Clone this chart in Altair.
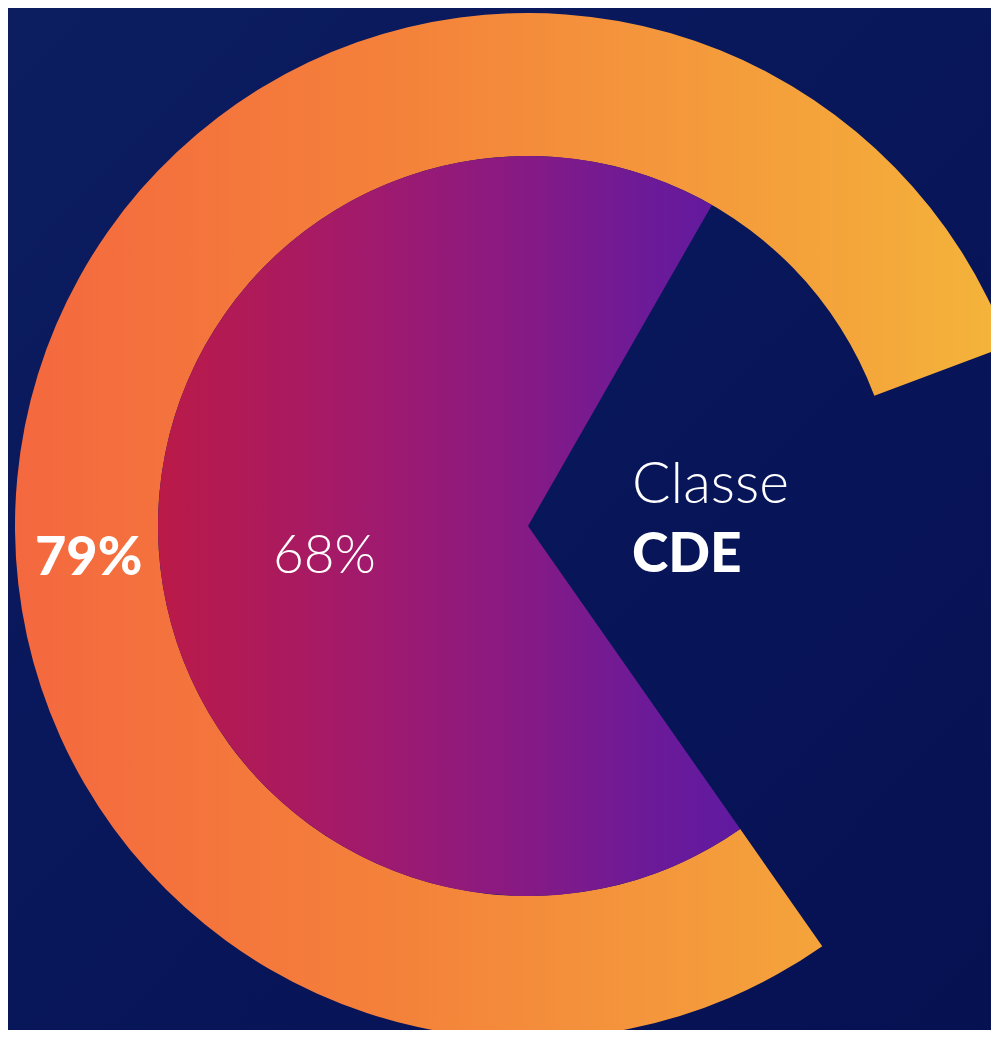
import math
import altair as alt
import pandas as pd

# ---- data ----
series = ["Anel externo", "Pizza interna"]
values = [79, 68]
value_labels = ["79%", "68%"]
title_lines = ["Classe", "CDE"]

START_DEG = 145  # where both arcs begin (clockwise from 12 o'clock)
start_rad = math.radians(START_DEG)
theta_scale = alt.Scale(domain=[0, 100], range=[start_rad, start_rad + 2 * math.pi])

W, H = 983, 1022
CX, CY = 520, 518
R_OUT, R_IN = 513, 370

ring_df = pd.DataFrame({"serie": [series[0]], "start": [0], "end": [values[0]]})
pie_df = pd.DataFrame({"serie": [series[1]], "start": [0], "end": [values[1]]})

ring_gradient = {
    "gradient": "linear", "x1": 0, "y1": 0, "x2": 1, "y2": 0,
    "stops": [
        {"offset": 0.0, "color": "#f4683f"},
        {"offset": 0.39, "color": "#f4823a"},
        {"offset": 0.64, "color": "#f4963c"},
        {"offset": 0.87, "color": "#f4a83a"},
        {"offset": 1.0, "color": "#f4b53a"},
    ],
}
pie_gradient = {
    "gradient": "linear", "x1": 0, "y1": 0, "x2": 1, "y2": 0,
    "stops": [
        {"offset": 0.0, "color": "#ba1a48"},
        {"offset": 0.35, "color": "#a21a6c"},
        {"offset": 0.6, "color": "#8a1a82"},
        {"offset": 0.84, "color": "#6c1a98"},
        {"offset": 1.0, "color": "#601aa0"},
    ],
}
bg_gradient = {
    "gradient": "linear", "x1": 0, "y1": 0, "x2": 1, "y2": 1,
    "stops": [
        {"offset": 0.0, "color": "#0c1d60"},
        {"offset": 0.5, "color": "#08165a"},
        {"offset": 1.0, "color": "#061152"},
    ],
}

bg = alt.Chart(pd.DataFrame({"k": [0]})).mark_rect(fill=bg_gradient, strokeWidth=0).encode(
    x=alt.value(0), x2=alt.value(W), y=alt.value(0), y2=alt.value(H)
)

ring = alt.Chart(ring_df).mark_arc(
    fill=ring_gradient, radius=R_OUT, radius2=R_IN, strokeWidth=0
).encode(
    theta=alt.Theta("start:Q", scale=theta_scale),
    theta2="end:Q",
    x=alt.value(CX), y=alt.value(CY),
)

pie = alt.Chart(pie_df).mark_arc(
    fill=pie_gradient, radius=R_IN, strokeWidth=0
).encode(
    theta=alt.Theta("start:Q", scale=theta_scale),
    theta2="end:Q",
    x=alt.value(CX), y=alt.value(CY),
)

FONT = "Lato"


def label(txt, x, y, weight, size=55):
    return alt.Chart(pd.DataFrame({"t": [txt]})).mark_text(
        font=FONT, fontSize=size, fontWeight=weight, color="white",
        align="left", baseline="alphabetic",
    ).encode(text="t:N", x=alt.value(x), y=alt.value(y))


labels = (
    label(value_labels[0], 27, 567, 900, 54)
    + label(value_labels[1], 265, 565, 300, 53)
    + label(title_lines[0], 624, 495, 300, 57)
    + label(title_lines[1], 624, 564, 900, 55)
)

chart = alt.layer(bg, ring, pie, labels).properties(
    width=W, height=H, padding=0, autosize="none", background="#0a185a"
).configure_view(stroke=None)

chart.save("out.html", embed_options={"renderer": "svg", "actions": False})
